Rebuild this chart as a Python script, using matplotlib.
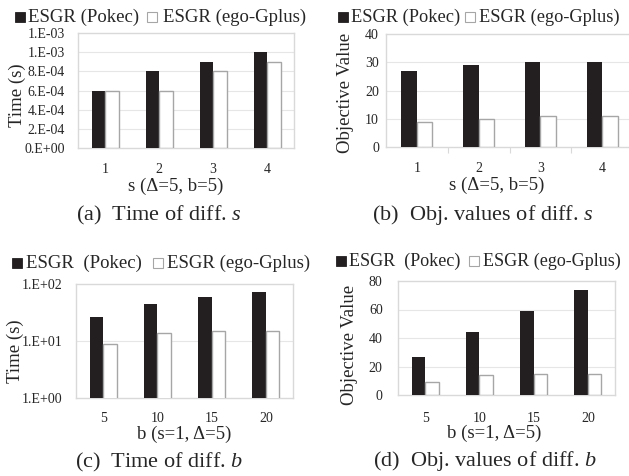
import matplotlib
matplotlib.use("Agg")
import matplotlib.pyplot as plt
from matplotlib.patches import Rectangle
from matplotlib.ticker import FixedLocator, NullLocator

# ---- data ----
s_values = ["1", "2", "3", "4"]
b_values = ["5", "10", "15", "20"]

time_s_pokec = [6e-4, 8e-4, 9e-4, 1.0e-3]
time_s_ego = [6e-4, 6e-4, 8e-4, 9e-4]
time_s_ticks = [0, 2e-4, 4e-4, 6e-4, 8e-4, 1.0e-3, 1.2e-3]
time_s_ticklabels = ["0.E+00", "2.E-04", "4.E-04", "6.E-04", "8.E-04", "1.E-03", "1.E-03"]

obj_s_pokec = [27, 29, 30, 30]
obj_s_ego = [9, 10, 11, 11]
obj_s_ticks = [0, 10, 20, 30, 40]

time_b_pokec = [26, 45, 59, 73]
time_b_ego = [8.7, 13.7, 15, 15]
time_b_ticks = [1, 10, 100]
time_b_ticklabels = ["1.E+00", "1.E+01", "1.E+02"]

obj_b_pokec = [27, 44, 59, 74]
obj_b_ego = [9, 14, 15, 15]
obj_b_ticks = [0, 20, 40, 60, 80]

W, H = 629, 476
DARK = "#231f20"
EDGE = "#a6a6a6"
GRID = "#e6e6e6"
FRAME = "#d9d9d9"
TEXT = "#262626"

plt.rcParams.update({
    "font.family": ["Liberation Serif", "DejaVu Serif"],
    "mathtext.fontset": "custom",
    "mathtext.rm": "Liberation Serif",
    "mathtext.it": "Liberation Serif:italic",
    "text.color": TEXT,
    "xtick.color": TEXT,
    "ytick.color": TEXT,
})


def box(left, top, right, bottom):
    """Pixel box -> figure fraction rect."""
    return [left / W, 1 - bottom / H, (right - left) / W, (bottom - top) / H]


def fx(x):
    return x / W


def fy(y):
    return 1 - y / H


def draw_panel(ax, cats, pokec, ego, ticks, ticklabels=None, log=False,
               ypad=9.0, xpad=9.0, cat_ticks=False):
    pos = list(range(len(cats)))
    w = 0.25
    ax.bar([p - w / 2 for p in pos], pokec, width=w, color=DARK, zorder=3)
    ax.bar([p + w / 2 for p in pos], ego, width=w, color="white",
           edgecolor=EDGE, linewidth=1.0, zorder=3)
    if log:
        ax.set_yscale("log")
    ax.set_ylim(ticks[0], ticks[-1])
    ax.yaxis.set_major_locator(FixedLocator(ticks))
    ax.yaxis.set_minor_locator(NullLocator())
    ax.set_yticklabels(ticklabels if ticklabels else [str(t) for t in ticks])
    ax.set_xlim(-0.5, len(cats) - 0.5)
    ax.set_xticks(pos)
    ax.set_xticklabels(cats)
    ax.tick_params(axis="y", length=0, pad=ypad, labelsize=10)
    ax.tick_params(axis="x", length=0, pad=xpad, labelsize=10)
    if cat_ticks:
        ax.set_xticks([p + 0.5 for p in pos[:-1]], minor=True)
        ax.tick_params(axis="x", which="minor", length=4, color=FRAME, width=0.8)
    for t in ticks[1:-1]:
        ax.axhline(t, color=GRID, linewidth=0.8, zorder=1)
    for side in ["top", "right", "left", "bottom"]:
        ax.spines[side].set_color(FRAME)
        ax.spines[side].set_linewidth(1.0)


def legend(fig, y, sq1, t1, sq2, t2, label1, size_pt=13.5):
    size = 10
    fig.patches.append(Rectangle((fx(sq1), fy(y + size / 2)), size / W, size / H,
                                 transform=fig.transFigure, facecolor=DARK,
                                 edgecolor=DARK, linewidth=0.6))
    fig.patches.append(Rectangle((fx(sq2), fy(y + size / 2)), size / W, size / H,
                                 transform=fig.transFigure, facecolor="white",
                                 edgecolor=EDGE, linewidth=0.8))
    fig.text(fx(t1), fy(y), label1, fontsize=size_pt, va="center", ha="left")
    fig.text(fx(t2), fy(y), "ESGR (ego-Gplus)", fontsize=size_pt, va="center", ha="left")


fig = plt.figure(figsize=(W / 100, H / 100), dpi=100)

ax_a = fig.add_axes(box(78, 33, 294, 148))
draw_panel(ax_a, s_values, time_s_pokec, time_s_ego, time_s_ticks,
           time_s_ticklabels, ypad=9.5, xpad=11)

ax_b = fig.add_axes(box(386, 34, 633, 147))
draw_panel(ax_b, s_values, obj_s_pokec, obj_s_ego, obj_s_ticks,
           ypad=5, xpad=11, cat_ticks=True)

ax_c = fig.add_axes(box(76, 284, 293, 398))
draw_panel(ax_c, b_values, time_b_pokec, time_b_ego, time_b_ticks,
           time_b_ticklabels, log=True, ypad=9.5, xpad=10)

ax_d = fig.add_axes(box(398, 281, 615, 395))
draw_panel(ax_d, b_values, obj_b_pokec, obj_b_ego, obj_b_ticks,
           ypad=11, xpad=12)

# legends
legend(fig, 17, 15, 28, 147, 163, "ESGR (Pokec)")
legend(fig, 17, 338, 351, 465, 479, "ESGR (Pokec)", size_pt=13.2)
legend(fig, 263, 12, 26, 153, 167, "ESGR  (Pokec)")
legend(fig, 261, 336, 349, 469, 483, "ESGR  (Pokec)", size_pt=13)

# axis titles
fig.text(fx(17), fy(95), "Time (s)", rotation=90, fontsize=13.5, ha="center", va="center")
fig.text(fx(345), fy(93), "Objective Value", rotation=90, fontsize=13.5, ha="center", va="center")
fig.text(fx(15), fy(351), "Time (s)", rotation=90, fontsize=13.5, ha="center", va="center")
fig.text(fx(350), fy(345), "Objective Value", rotation=90, fontsize=13.5, ha="center", va="center")

fig.text(fx(176), fy(186), "s (\u0394=5, b=5)", fontsize=13.5, ha="center", va="center")
fig.text(fx(497), fy(185), "s (\u0394=5, b=5)", fontsize=13.5, ha="center", va="center")
fig.text(fx(184), fy(434), "b (s=1, \u0394=5)", fontsize=13.5, ha="center", va="center")
fig.text(fx(494), fy(433), "b (s=1, \u0394=5)", fontsize=13.5, ha="center", va="center")

# captions
fig.text(fx(159), fy(215), r"(a)  Time of diff. $s$", fontsize=16, ha="center", va="center")
fig.text(fx(483), fy(215), r"(b)  Obj. values of diff. $s$", fontsize=16, ha="center", va="center")
fig.text(fx(159), fy(462), r"(c)  Time of diff. $b$", fontsize=16, ha="center", va="center")
fig.text(fx(485), fy(461), r"(d)  Obj. values of diff. $b$", fontsize=16, ha="center", va="center")

fig.savefig("out.png", dpi=100)
